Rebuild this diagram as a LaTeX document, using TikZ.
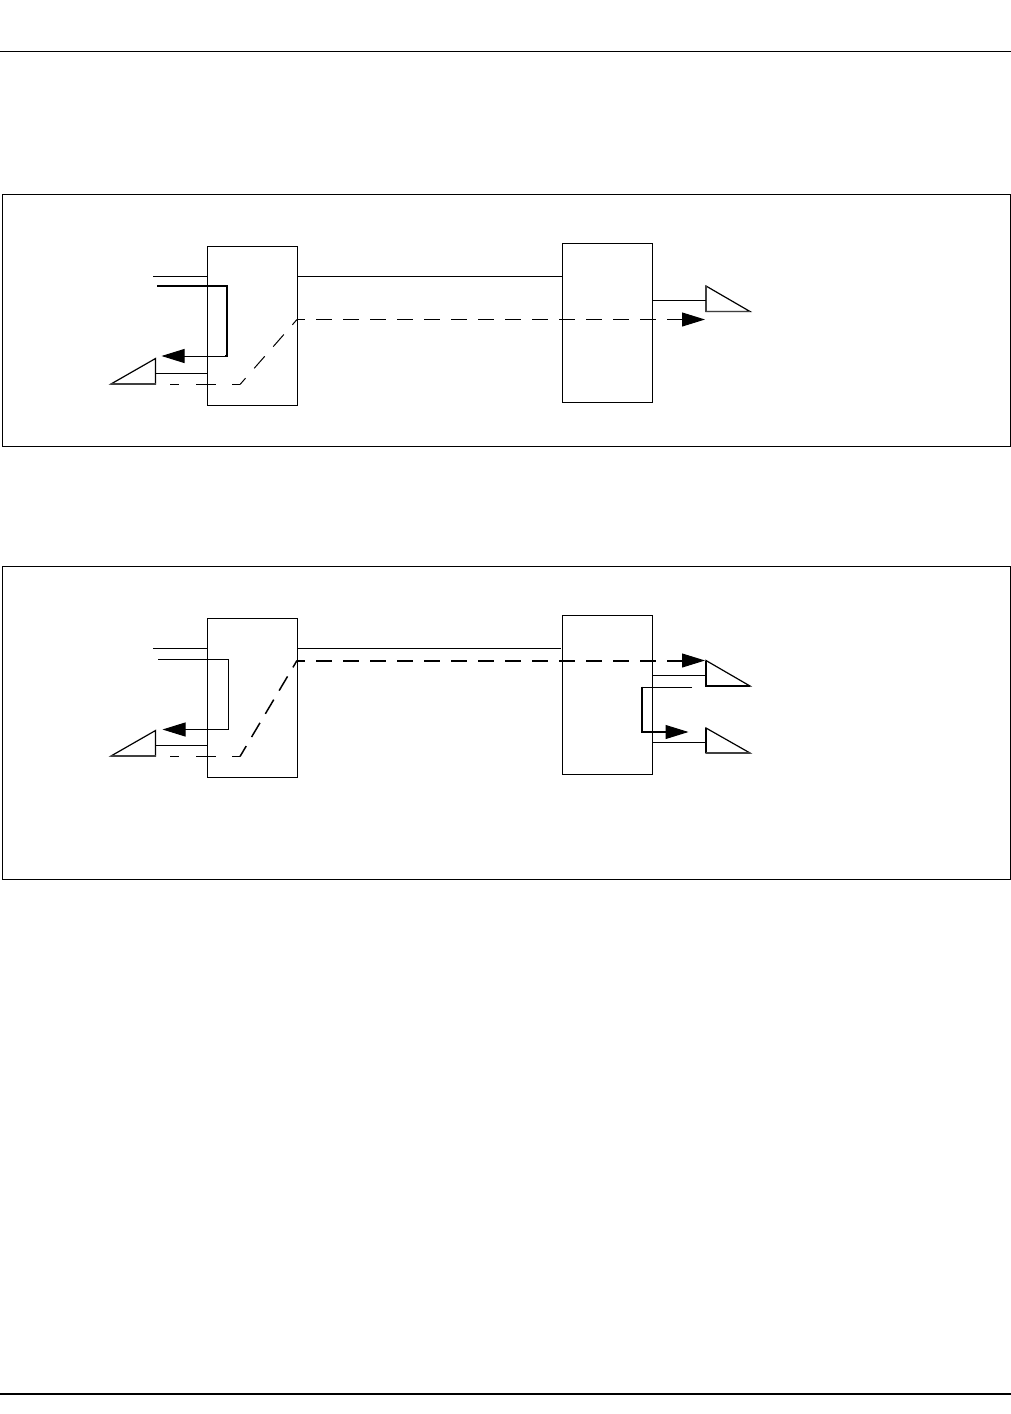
\documentclass[tikz,border=0pt]{standalone}
\usetikzlibrary{arrows.meta}
\tikzset{
  x=1pt,y=-1pt,
  thin line/.style={line width=1pt,line cap=butt,line join=miter},
  thick route/.style={line width=2pt,line join=miter},
  unit/.style={draw,line width=1pt,rectangle,minimum width=90pt,minimum height=159pt,inner sep=0pt,outer sep=0pt},
  panel/.style={draw,line width=1pt,rectangle,inner sep=0pt,outer sep=0pt,minimum width=1008pt},
  head/.style={-{Triangle[length=23pt,width=14pt]}},
  tel/.style={draw,line width=1.2pt,line join=miter,fill=white},
  telbase/.style={line width=1.8pt,line join=miter,black!75},
  longdash/.style={dash pattern=on 16pt off 11pt,dash phase=8pt},
  stubdash/.style={dash pattern=on 9pt off 17pt on 20pt off 16pt on 8pt off 30pt},
}
\begin{document}
\begin{tikzpicture}
\useasboundingbox (0,0) rectangle (1011,1414);
% rules
\coordinate (ruleTopL) at (0,51.5); \coordinate (ruleTopR) at (1011,51.5);
\coordinate (ruleBotL) at (0,1394); \coordinate (ruleBotR) at (1011,1394);
\draw[thin line] (ruleTopL) -- (ruleTopR);
\draw[line width=2pt] (ruleBotL) -- (ruleBotR);
% panels
\node[panel,minimum height=252pt] (panelOne) at (506.5,320) {};
\node[panel,minimum height=313pt] (panelTwo) at (506.5,722.5) {};

% --- first diagram ---
\node[unit] (a1) at (252,325.5) {};
\node[unit] (b1) at (607.5,322.5) {};
\coordinate (a1in) at (153,276.5); \coordinate (a1inE) at (a1.west |- a1in);
\draw[thin line] (a1in) -- (a1inE);
\coordinate (a1out) at (a1.east |- a1in); \coordinate (b1in) at (b1.west |- a1in);
\draw[thin line] (a1out) -- (b1in);
% left telephone
\coordinate (t1a) at (111,384); \coordinate (t1b) at (155.5,358.5); \coordinate (t1c) at (155.5,384);
\draw[tel] (t1a) -- (t1b) -- (t1c) -- cycle;
\draw[telbase] (t1a) -- (t1c);
\coordinate (t1w) at (155.5,373.5); \coordinate (t1wE) at (a1.west |- t1w);
\draw[thin line] (t1w) -- (t1wE);
% thick route
\coordinate (r1s) at (157,286); \coordinate (r1c1) at (227,286); \coordinate (r1c2) at (227,356); \coordinate (r1e) at (161.5,356);
\draw[thick route] (r1s) -- (r1c1) -- (r1c2) -- ++(-2,0);
\draw[thin line] (r1c2) -- (184,356);
\draw[head,thin line] (186,356) -- (r1e);
% dashed route
\coordinate (d1s) at (170,384.5); \coordinate (d1k) at (240,384.5); \coordinate (d1m) at (297,319.5); \coordinate (d1e) at (705,319.5);
\draw[thin line,stubdash] (d1s) -- (d1k);
\draw[thin line,dash pattern=on 16pt off 13pt,dash phase=9pt] (d1m) -- (d1k);
\draw[thin line,longdash] (d1m) -- (682,319.5);
\draw[head,thin line] (681,319.5) -- (d1e);
% right telephone
\coordinate (t2a) at (706,286); \coordinate (t2b) at (750,311.5); \coordinate (t2c) at (706,311.5);
\draw[tel] (t2a) -- (t2b) -- (t2c) -- cycle;
\draw[telbase] (t2a) -- (t2c) -- (t2b);
\coordinate (t2w) at (706,300.5); \coordinate (t2wS) at (b1.east |- t2w);
\draw[thin line] (t2wS) -- (t2w);

% --- second diagram ---
\node[unit] (a2) at (252,697.5) {};
\node[unit] (b2) at (607.5,694.5) {};
\coordinate (a2in) at (153,648.5); \coordinate (a2inE) at (a2.west |- a2in);
\draw[thin line] (a2in) -- (a2inE);
\coordinate (a2out) at (a2.east |- a2in); \coordinate (b2in) at (561,648.5);
\draw[thin line] (a2out) -- (b2in);
% left telephone
\coordinate (t3a) at (111,756); \coordinate (t3b) at (155.5,730.5); \coordinate (t3c) at (155.5,756);
\draw[tel] (t3a) -- (t3b) -- (t3c) -- cycle;
\draw[telbase] (t3a) -- (t3c);
\coordinate (t3w) at (155.5,745.5); \coordinate (t3wE) at (a2.west |- t3w);
\draw[thin line] (t3w) -- (t3wE);
% thin route
\coordinate (r2s) at (158,659.5); \coordinate (r2c1) at (228.5,659.5); \coordinate (r2c2) at (228.5,729.5); \coordinate (r2e) at (162.5,729.5);
\draw[thin line] (r2s) -- (r2c1) -- (r2c2) -- (185,729.5);
\draw[head,thin line] (187,729.5) -- (r2e);
% dashed route
\coordinate (d2s) at (170,756.5); \coordinate (d2k) at (240,756.5); \coordinate (d2m) at (297,660.5); \coordinate (d2e) at (705,660.5);
\draw[thin line,stubdash] (d2s) -- (d2k);
\draw[line width=1.5pt,dash pattern=on 16.5pt off 10.5pt,dash phase=8.5pt] (d2m) -- (d2k);
\draw[thick route,longdash] (d2m) -- (682,660.5);
\draw[head,thin line] (681,660.5) -- (d2e);
% right telephones
\coordinate (t4a) at (706,660.5); \coordinate (t4b) at (750,686); \coordinate (t4c) at (706,686);
\draw[tel] (t4a) -- (t4b) -- (t4c) -- cycle;
\draw[line width=2pt,line join=miter] (t4a) -- (t4c) -- (t4b);
\coordinate (t4w) at (706,675.5); \coordinate (t4wS) at (b2.east |- t4w);
\draw[thin line] (t4wS) -- (t4w);
\coordinate (t5a) at (706,728); \coordinate (t5b) at (750,753); \coordinate (t5c) at (706,753);
\draw[tel] (t5a) -- (t5b) -- (t5c) -- cycle;
\draw[line width=2pt] (t5a) -- (t5c);
\draw[telbase] (t5c) -- (t5b);
\coordinate (t5w) at (706,742.5); \coordinate (t5wS) at (b2.east |- t5w);
\draw[thin line] (t5wS) -- (t5w);
% loop in far unit
\coordinate (r3s) at (692,687.5); \coordinate (r3c1) at (642,687.5); \coordinate (r3c2) at (642,732); \coordinate (r3e) at (688.5,732);
\draw[thin line] (r3s) -- (r3c1);
\draw[thick route] (642,686.5) -- (r3c2) -- (666,732);
\draw[head,thin line] (664,732) -- (r3e);
\end{tikzpicture}
\end{document}
